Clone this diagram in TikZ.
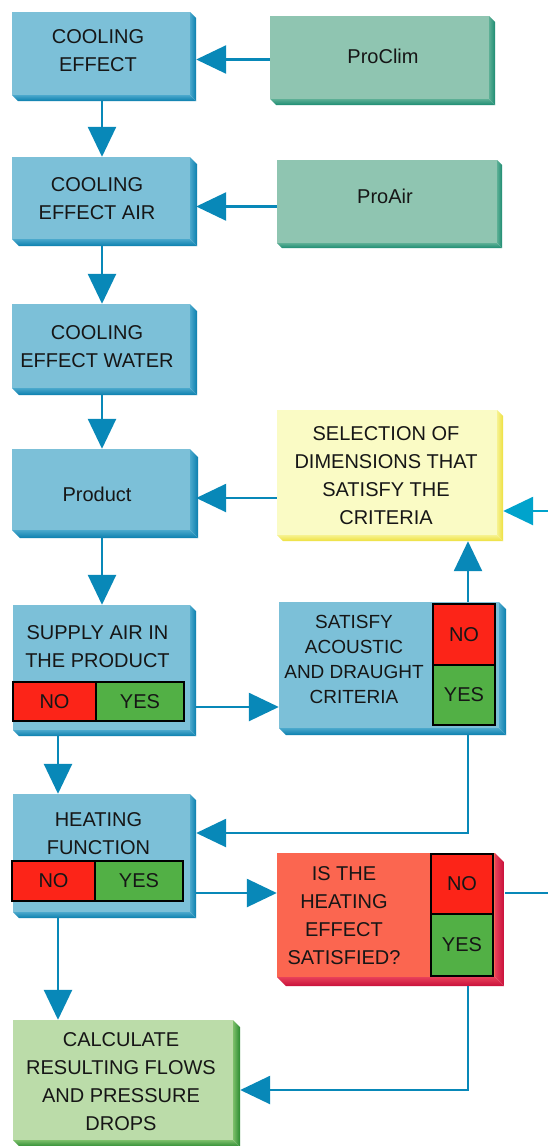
\documentclass[tikz,border=0pt]{standalone}
\usepackage{fontspec}
\setmainfont{Liberation Sans}
\usetikzlibrary{arrows.meta,calc}
\definecolor{txt}{HTML}{161616}
\definecolor{bluef}{HTML}{7CC0D8}
\definecolor{bluem}{HTML}{4AA8CC}
\definecolor{blued}{HTML}{0B7FAE}
\definecolor{greenf}{HTML}{8FC5B1}
\definecolor{greenm}{HTML}{5CAF95}
\definecolor{greend}{HTML}{1E8C72}
\definecolor{yelf}{HTML}{FAFBC5}
\definecolor{yelm}{HTML}{F6F290}
\definecolor{yeld}{HTML}{EEE040}
\definecolor{redf}{HTML}{FB6650}
\definecolor{redm}{HTML}{E8405A}
\definecolor{redd}{HTML}{C8103A}
\definecolor{lgf}{HTML}{BBDCA9}
\definecolor{lgm}{HTML}{7CBF6A}
\definecolor{lgd}{HTML}{2A8A30}
\definecolor{nored}{HTML}{FC2418}
\definecolor{yesgreen}{HTML}{52B045}
\definecolor{arrowc}{HTML}{0888B8}
\definecolor{arrowl}{HTML}{00A3CC}
% #1 name, #2 x1, #3 y1, #4 x2, #5 y2, #6 depth, #7 colour prefix
\newcommand\bvbox[7]{%
  \shade[left color=#7m, right color=#7d] (#4,#3) -- ({#4+#6},{#3+#6}) -- ({#4+#6},{#5+#6}) -- (#4,#5) -- cycle;
  \shade[top color=#7m, bottom color=#7d] (#2,#5) -- (#4,#5) -- ({#4+#6},{#5+#6}) -- ({#2+#6},{#5+#6}) -- cycle;
  \node[face, fill=#7f, minimum width={#4pt-#2pt}, minimum height={#5pt-#3pt}] (#1) at ({(#2+#4)/2},{(#3+#5)/2}) {};
}
% #1 name, #2 x1, #3 y1, #4 x2, #5 y2, #6 style, #7 text
\newcommand\subbox[7]{%
  \node[#6, minimum width={#4pt-#2pt}, minimum height={#5pt-#3pt}] (#1) at ({(#2+#4)/2},{(#3+#5)/2}) {#7};
}
\begin{document}
\begin{tikzpicture}[x=1pt,y=-1pt,
  face/.style={inner sep=0pt, draw=none},
  lbl/.style={align=center, font=\fontsize{20}{28}\selectfont, text=txt, inner sep=0pt},
  lbls/.style={align=center, font=\fontsize{19}{25}\selectfont, text=txt, inner sep=0pt},
  nobox/.style={draw=black, line width=1.2pt, fill=nored, inner sep=0pt, lbl},
  yesbox/.style={draw=black, line width=1.2pt, fill=yesgreen, inner sep=0pt, lbl},
  conn/.style={line width=2.6pt, draw=arrowc, -{Triangle[length=30pt,width=28pt]}},
  plain/.style={line width=2.6pt, draw=arrowc}]
\useasboundingbox (0,0) rectangle (548,1146);
\fill[white] (0,0) rectangle (548,1146);

% boxes
\bvbox{ce}{12}{12}{190}{95}{6}{blue}
\node[lbl] (cet) at (98,50.5) {COOLING\\EFFECT};
\bvbox{pclim}{270}{16}{489}{99}{6}{green}
\node[lbl] (pclimt) at (383,56) {ProClim};
\bvbox{pair}{277}{160}{497}{243}{5}{green}
\node[lbl] (pairt) at (385,196) {ProAir};
\bvbox{cea}{12}{157}{190}{239}{7}{blue}
\node[lbl] (ceat) at (97,199) {COOLING\\EFFECT AIR};
\bvbox{cew}{12}{304}{190}{388}{7}{blue}
\node[lbl] (cewt) at (97,346.5) {COOLING\\EFFECT WATER};
\bvbox{prod}{12}{449}{190}{530}{8}{blue}
\node[lbl] (prodt) at (97,494.5) {Product};
\bvbox{sel}{277}{410}{497}{535}{6}{yel}
\node[lbl] (selt) at (386,476) {SELECTION OF\\DIMENSIONS THAT\\SATISFY THE\\CRITERIA};
\bvbox{sat}{279}{602}{499}{728}{7}{blue}
\node[lbls] (satt) at (354,659.5) {SATISFY\\ACOUSTIC\\AND DRAUGHT\\CRITERIA};
\subbox{satno}{433}{604}{495}{665}{nobox}{NO}
\subbox{satyes}{433}{665}{495}{725}{yesbox}{YES}
\bvbox{sup}{13}{605}{190}{730}{6}{blue}
\node[lbl] (supt) at (97.5,646.5) {SUPPLY AIR IN\\THE PRODUCT};
\subbox{supno}{13}{682}{96}{721}{nobox}{NO}
\subbox{supyes}{96}{682}{184}{721}{yesbox}{YES}
\bvbox{heat}{13}{794}{190}{912}{6}{blue}
\node[lbl] (heatt) at (98.5,834) {HEATING\\FUNCTION};
\subbox{heatno}{12}{861}{95}{901}{nobox}{NO}
\subbox{heatyes}{95}{861}{183}{901}{yesbox}{YES}
\bvbox{isth}{277}{853}{495}{977}{9}{red}
\node[lbl] (istht) at (344,915.5) {IS THE\\HEATING\\EFFECT\\SATISFIED?};
\subbox{isthno}{431}{854}{493}{914}{nobox}{NO}
\subbox{isthyes}{431}{914}{493}{976}{yesbox}{YES}
\bvbox{calc}{13}{1020}{233}{1140}{7}{lg}
\node[lbl] (calct) at (121,1082) {CALCULATE\\RESULTING FLOWS\\AND PRESSURE\\DROPS};

% helper coordinates
\coordinate (c102) at (102,0);
\coordinate (c58) at (58,0);
\coordinate (c468) at (468,0);
\coordinate (y498) at (0,498);
\coordinate (y707) at (0,707);
\coordinate (y833) at (0,833);
\coordinate (y893) at (0,893);
\coordinate (y1090) at (0,1090);
\coordinate (selin) at (548,511);
\coordinate (noout) at (548,893);

% connectors
\draw[conn] ($(pclim.west)+(0,2)$) -- ($(pclim.west -| ce.east)+(6,2)$);
\draw[conn] ($(pair.west)+(0,5)$) -- ($(pair.west -| cea.east)+(6,5)$);
\draw[conn] ($(ce.south -| c102)+(0,6)$) -- (cea.north -| c102);
\draw[conn] ($(cea.south -| c102)+(0,7)$) -- (cew.north -| c102);
\draw[conn] ($(cew.south -| c102)+(0,7)$) -- (prod.north -| c102);
\draw[conn] ($(prod.south -| c102)+(0,8)$) -- (sup.north -| c102);
\draw[conn] (sel.west |- y498) -- ($(prod.east |- y498)+(6,0)$);
\draw[conn, draw=arrowl] (selin) -- ($(sel.east |- selin)+(6,0)$);
\draw[conn] ($(sup.east |- y707)+(6,0)$) -- (sat.west |- y707);
\draw[conn] (sat.north -| c468) -- ($(sel.south -| c468)+(0,6)$);
\draw[conn] ($(sat.south -| c468)+(0,7)$) |- ($(heat.east |- y833)+(6,0)$);
\draw[conn] ($(sup.south -| c58)+(0,6)$) -- (heat.north -| c58);
\draw[conn] ($(heat.east |- y893)+(6,0)$) -- (isth.west |- y893);
\draw[plain] ($(isth.east |- noout)+(10,0)$) -- (noout);
\draw[conn] ($(isth.south -| c468)+(0,9)$) |- ($(calc.east |- y1090)+(7,0)$);
\draw[conn] ($(heat.south -| c58)+(0,6)$) -- (calc.north -| c58);
\end{tikzpicture}
\end{document}
